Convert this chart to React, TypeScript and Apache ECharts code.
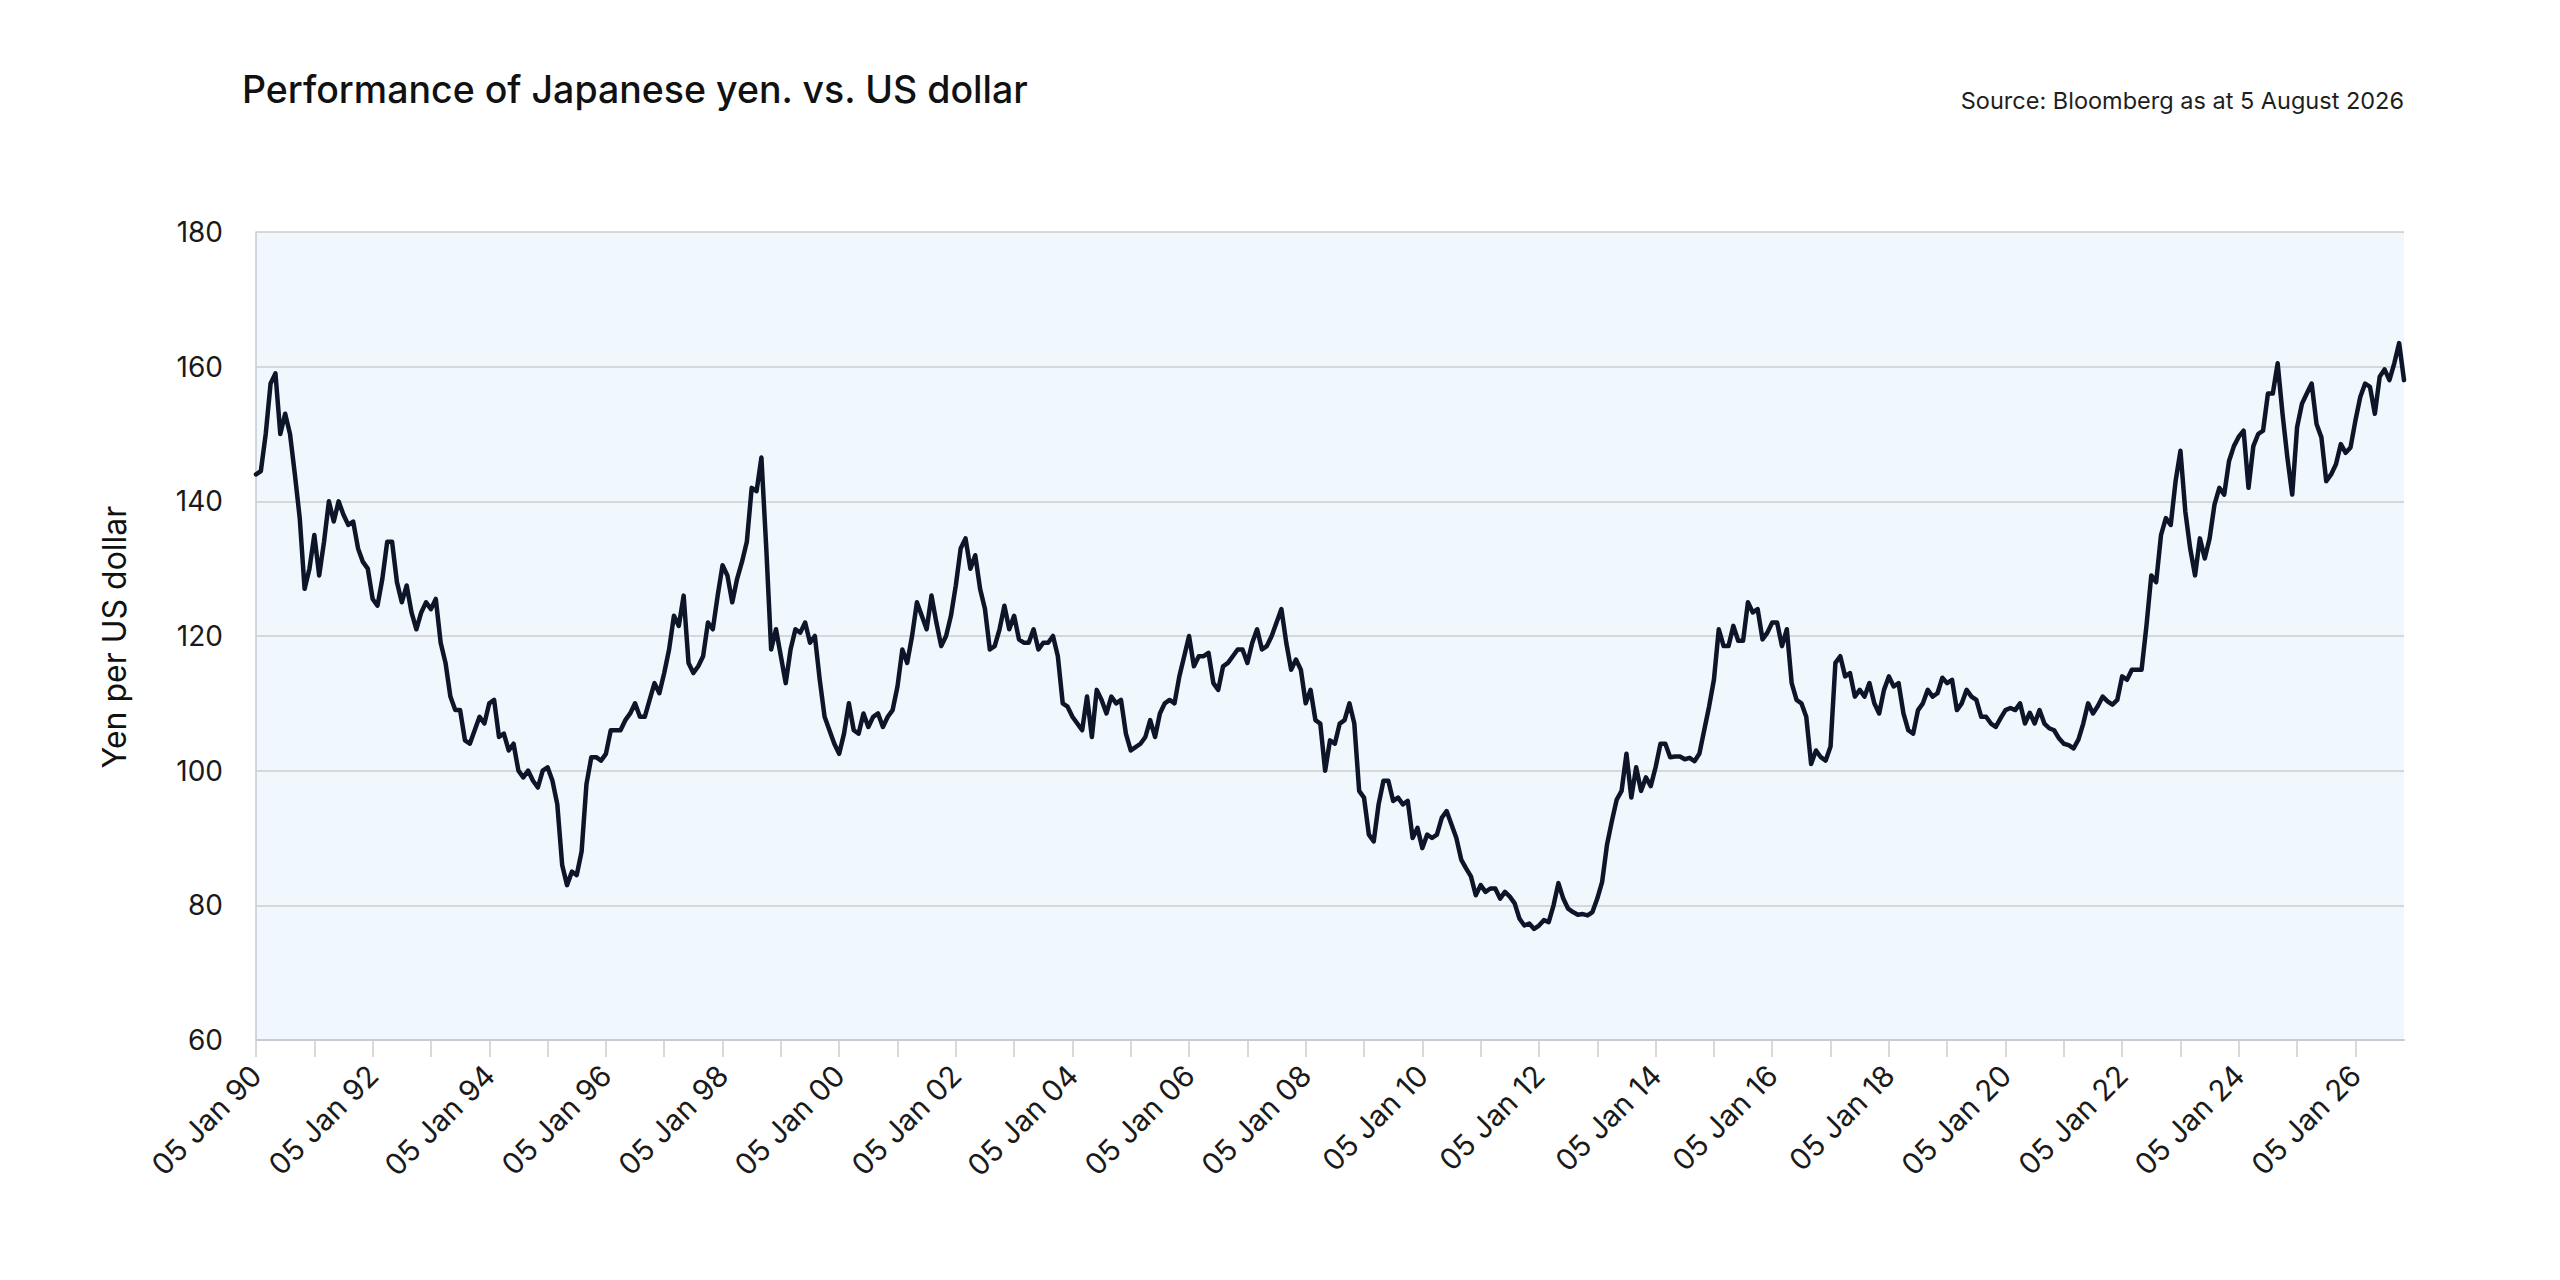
import React, { useEffect, useRef } from "react";
import * as echarts from "echarts";

// Monthly USD/JPY levels (Jan 1990 onwards)
const startYear = 1990;
const monthNames = ["Jan", "Feb", "Mar", "Apr", "May", "Jun", "Jul", "Aug", "Sep", "Oct", "Nov", "Dec"];

const yen1990s = [
  144, 144.5, 150, 157.5, 159, 150, 153, 150, 144, 137.5, 127, 130,
  135, 129, 134, 140, 137, 140, 138, 136.5, 137, 133, 131, 130,
  125.5, 124.5, 128.5, 134, 134, 128, 125, 127.5, 123.5, 121, 123.5, 125,
  124, 125.5, 119, 116, 111, 109, 109, 104.5, 104, 106, 108, 107,
  110, 110.5, 105, 105.5, 103, 104, 100, 99, 100, 98.5, 97.5, 100,
  100.5, 98.5, 95, 86, 83, 85, 84.5, 88, 98, 102, 102, 101.5,
  102.5, 106, 106, 106, 107.5, 108.5, 110, 108, 108, 110.5, 113, 111.5,
  114.5, 118, 123, 121.5, 126, 116, 114.5, 115.5, 117, 122, 121, 126,
  130.5, 129, 125, 128.5, 131, 134, 142, 141.5, 146.5, 133, 118, 121,
  117, 113, 118, 121, 120.5, 122, 119, 120, 113.5, 108, 106, 104,
];

const yen2000s = [
  102.5, 105.5, 110, 106, 105.5, 108.5, 106.5, 108, 108.5, 106.5, 108, 109,
  112.5, 118, 116, 120, 125, 123, 121, 126, 122, 118.5, 120, 123,
  127.5, 133, 134.5, 130, 132, 127, 124, 118, 118.5, 121, 124.5, 121,
  123, 119.5, 119, 119, 121, 118, 119, 119, 120, 117, 110, 109.5,
  108, 107, 106, 111, 105, 112, 110.5, 108.5, 111, 110, 110.5, 105.5,
  103, 103.5, 104, 105, 107.5, 105, 108.5, 110, 110.5, 110, 114, 117,
  120, 115.5, 117, 117, 117.5, 113, 112, 115.5, 116, 117, 118, 118,
  116, 119, 121, 118, 118.5, 120, 122, 124, 119, 115, 116.5, 115,
  110, 112, 107.5, 107, 100, 104.5, 104, 107, 107.5, 110, 107, 97,
  96, 90.5, 89.5, 95, 98.5, 98.5, 95.5, 96, 95, 95.5, 90, 91.5,
];

const yen2010s = [
  88.5, 90.5, 90, 90.5, 93, 94, 92, 90, 86.8, 85.5, 84.3, 81.5,
  83, 82, 82.5, 82.5, 81, 82, 81.3, 80.3, 78, 77, 77.3, 76.5,
  77, 77.8, 77.5, 80, 83.3, 81, 79.5, 79, 78.6, 78.7, 78.5, 79,
  81, 83.5, 89, 92.5, 95.7, 97, 102.5, 96, 100.5, 97, 99, 97.7,
  100.5, 104, 104, 102, 102.1, 102.1, 101.7, 101.9, 101.4, 102.5, 106, 109.5,
  113.5, 121, 118.5, 118.5, 121.5, 119.3, 119.3, 125, 123.5, 124, 119.5, 120.5,
  122, 122, 118.5, 121, 113, 110.5, 110, 108, 101, 103, 102, 101.5,
  103.6, 116, 117, 114, 114.5, 111, 112, 111, 113, 110, 108.5, 112,
  114, 112.5, 113, 108.5, 106, 105.5, 109, 110, 112, 111, 111.5, 113.8,
  113, 113.5, 109, 110, 112, 111, 110.5, 108, 108, 107, 106.5, 107.8,
];

const yen2020s = [
  109, 109.3, 109, 110, 107, 108.6, 107, 109, 107, 106.3, 106, 104.8,
  104, 103.8, 103.3, 104.6, 107, 110, 108.5, 109.6, 111, 110.3, 109.8, 110.5,
  114, 113.5, 115, 115, 115, 121.5, 129, 128, 135, 137.5, 136.5, 143,
  147.5, 138.5, 133, 129, 134.5, 131.5, 134.5, 139.5, 142, 141, 146, 148.2,
  149.6, 150.5, 142, 148.2, 150, 150.5, 156, 156, 160.5, 153, 146.5, 141,
  151, 154.5, 156, 157.5, 151.5, 149.5, 143, 144, 145.5, 148.5, 147.2, 148,
  152, 155.5, 157.5, 157, 153, 158.5, 159.6, 158, 160.5, 163.5, 158,
];

const yenValues = [...yen1990s, ...yen2000s, ...yen2010s, ...yen2020s];

// Category labels: "05 Mmm YY" for each monthly point
const dateLabels = yenValues.map((_, i) => {
  const yr = (startYear + Math.floor(i / 12)) % 100;
  return `05 ${monthNames[i % 12]} ${String(yr).padStart(2, "0")}`;
});

const yMin = 60;
const yMax = 180;
const yStep = 20;

const titleText = "Performance of Japanese yen. vs. US dollar";
const sourceText = "Source: Bloomberg as at 5 August 2026";
const yAxisTitle = "Yen per US dollar";

const FONT = "Inter, 'Noto Sans', sans-serif";

export default function App() {
  const ref = useRef<HTMLDivElement>(null);

  useEffect(() => {
    document.body.style.margin = "0";
    if (!ref.current) return;
    const chart = echarts.init(ref.current, undefined, { renderer: "svg" });
    chart.setOption({
      animation: false,
      backgroundColor: "#FFFFFF",
      textStyle: { fontFamily: FONT },
      grid: {
        left: 256,
        right: 156,
        top: 232,
        bottom: 240,
        show: true,
        backgroundColor: "#F0F7FD",
        borderWidth: 0,
        containLabel: false,
      },
      xAxis: {
        type: "category",
        data: dateLabels,
        boundaryGap: false,
        axisLine: { show: true, lineStyle: { color: "#C6CAD1", width: 2 } },
        axisTick: { show: true, interval: 11, length: 17, lineStyle: { color: "#CCCCCC", width: 1.5 } },
        axisLabel: {
          interval: 23,
          rotate: 45,
          margin: 30,
          fontSize: 29.5,
          color: "#1A1A1A",
          fontFamily: FONT,
        },
        splitLine: { show: false },
      },
      yAxis: {
        type: "value",
        min: yMin,
        max: yMax,
        interval: yStep,
        axisLine: { show: true, lineStyle: { color: "#C6CAD1", width: 1.5 } },
        axisTick: { show: false },
        axisLabel: { fontSize: 28, color: "#1A1A1A", margin: 33, fontFamily: FONT },
        splitLine: { show: true, lineStyle: { color: "#CDCDCD", width: 1.5 } },
      },
      series: [
        {
          type: "line",
          data: yenValues,
          showSymbol: false,
          symbol: "none",
          lineStyle: { color: "#0D1529", width: 4.5, join: "round", cap: "round" },
          z: 3,
        },
      ],
      graphic: [
        {
          type: "text",
          left: 242,
          top: 70,
          style: {
            text: titleText,
            font: `500 37.5px ${FONT}`,
            fill: "#111111",
          },
        },
        {
          type: "text",
          right: 156,
          top: 88,
          style: {
            text: sourceText,
            font: `400 23.5px ${FONT}`,
            fill: "#1E1E1E",
          },
        },
        {
          type: "text",
          x: 114,
          y: 637,
          rotation: Math.PI / 2,
          style: {
            text: yAxisTitle,
            font: `400 32px ${FONT}`,
            fill: "#111111",
            align: "center",
            verticalAlign: "middle",
          },
        },
      ],
    });
    return () => chart.dispose();
  }, []);

  return <div ref={ref} style={{ width: 2560, height: 1280 }} />;
}
